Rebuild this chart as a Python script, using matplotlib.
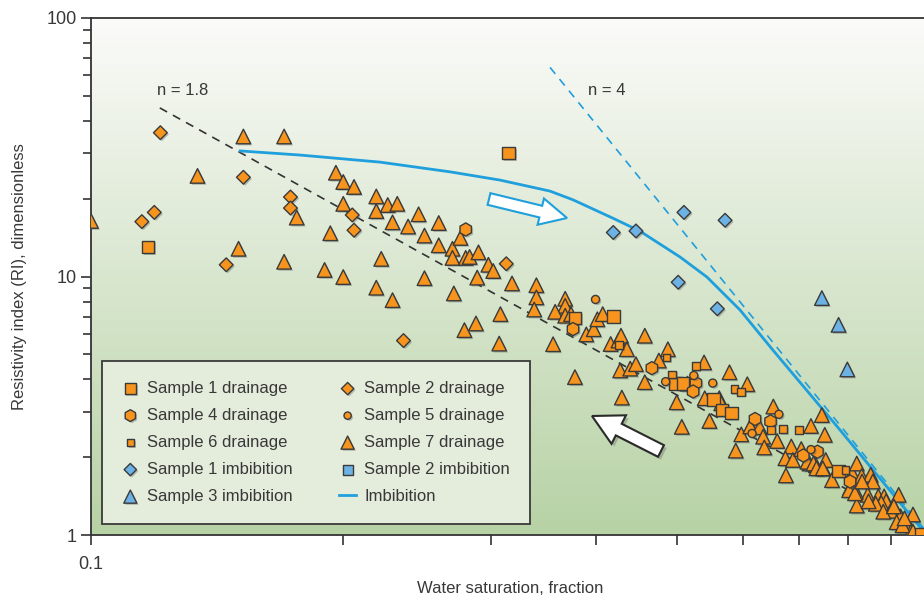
import numpy as np
import matplotlib
matplotlib.use("Agg")
import matplotlib.pyplot as plt
import matplotlib.patheffects as pe
from matplotlib.patches import FancyArrow
from matplotlib.ticker import FixedLocator, FixedFormatter, NullLocator
from matplotlib.transforms import Affine2D

FONT = ["Liberation Sans", "DejaVu Sans"]
plt.rcParams["font.family"] = FONT
TEXT = "#383838"

# ---- measured resistivity index vs water saturation ----
s1_drain_sw = [0.117, 0.315, 0.378, 0.42, 0.498, 0.509, 0.553, 0.566, 0.581, 0.78, 0.98]
s1_drain_ri = [13.0, 30.0, 6.9, 7.0, 3.86, 3.86, 3.35, 3.05, 2.97, 1.77, 1.01]

s2_drain_sw = [0.121, 0.115, 0.119, 0.145, 0.152, 0.173, 0.173, 0.205, 0.206, 0.313, 0.236]
s2_drain_ri = [36.0, 16.3, 17.7, 11.1, 24.2, 20.3, 18.4, 17.3, 15.1, 11.2, 5.65]

s4_drain_sw = [0.28, 0.376, 0.467, 0.527, 0.523, 0.62, 0.647, 0.708, 0.736, 0.805]
s4_drain_ri = [15.2, 6.26, 4.42, 3.87, 3.59, 2.81, 2.75, 2.03, 2.10, 1.61]

s5_drain_sw = [0.40, 0.485, 0.524, 0.552, 0.662, 0.615, 0.723]
s5_drain_ri = [8.15, 3.92, 4.14, 3.87, 2.93, 2.47, 2.14]

s6_drain_sw = [0.427, 0.486, 0.494, 0.527, 0.586, 0.597, 0.648, 0.67, 0.699, 0.795]
s6_drain_ri = [5.42, 4.86, 4.18, 4.5, 3.66, 3.58, 2.55, 2.57, 2.55, 1.78]

s7_drain_sw = [
    0.100, 0.134, 0.152, 0.170, 0.150, 0.170, 0.176, 0.190, 0.193, 0.196,
    0.200, 0.206, 0.200, 0.200, 0.219, 0.219, 0.219, 0.222, 0.226, 0.232,
    0.229, 0.239, 0.246, 0.260, 0.250, 0.260, 0.270, 0.270, 0.276, 0.280,
    0.283, 0.290, 0.298, 0.302, 0.289, 0.318, 0.340, 0.340, 0.338, 0.308,
    0.288, 0.279, 0.307, 0.271, 0.250, 0.229, 0.368, 0.368, 0.358, 0.368,
    0.374, 0.356, 0.390, 0.398, 0.402, 0.408, 0.417, 0.426, 0.429, 0.436,
    0.458, 0.428, 0.440, 0.447, 0.458, 0.476, 0.488, 0.378, 0.430, 0.515,
    0.539, 0.578, 0.607, 0.500, 0.540, 0.562, 0.565, 0.547, 0.507, 0.588,
    0.597, 0.612, 0.628, 0.634, 0.636, 0.652, 0.659, 0.685, 0.674, 0.688,
    0.704, 0.745, 0.723, 0.751, 0.675, 0.733, 0.748, 0.720, 0.716, 0.753,
    0.766, 0.810, 0.820, 0.831, 0.852, 0.857, 0.820, 0.805, 0.845, 0.870,
    0.884, 0.889, 0.920, 0.910, 0.877, 0.900, 0.925, 0.915, 0.935, 0.957,
    0.953, 0.818, 0.864, 0.803, 0.816, 0.728, 0.734, 0.747, 0.832, 0.930,
    0.882, 0.908, 0.847, 0.957, 0.935,
]
s7_drain_ri = [
    16.4, 24.5, 34.8, 34.8, 12.8, 11.4, 16.9, 10.6, 14.7, 25.2,
    23.2, 22.2, 19.1, 9.95, 20.4, 17.9, 9.05, 11.7, 18.9, 19.1,
    16.2, 15.6, 17.4, 16.1, 14.4, 13.2, 12.8, 11.8, 14.1, 11.8,
    11.9, 12.4, 11.1, 10.5, 9.9, 9.4, 9.25, 8.3, 7.45, 7.15,
    6.58, 6.2, 5.5, 8.6, 9.85, 8.1, 8.2, 7.7, 7.3, 7.05,
    7.15, 5.47, 5.97, 6.25, 6.83, 7.15, 5.48, 5.65, 5.9, 5.23,
    5.9, 4.33, 4.4, 4.58, 3.9, 4.73, 5.23, 4.08, 3.4, 3.85,
    4.65, 4.26, 3.83, 3.26, 3.38, 3.38, 3.23, 2.76, 2.62, 2.12,
    2.45, 2.63, 2.61, 2.4, 2.18, 3.14, 2.31, 2.2, 1.98, 1.95,
    2.15, 2.91, 2.64, 2.44, 1.7, 1.86, 1.81, 1.89, 1.92, 1.95,
    1.63, 1.73, 1.89, 1.69, 1.71, 1.61, 1.3, 1.52, 1.43, 1.41,
    1.41, 1.35, 1.43, 1.27, 1.33, 1.24, 1.18, 1.12, 1.12, 1.2,
    1.04, 1.47, 1.32, 1.49, 1.45, 1.89, 1.81, 1.81, 1.61, 1.09,
    1.23, 1.29, 1.35, 1.03, 1.16,
]

s1_imb_sw = [0.42, 0.447, 0.51, 0.571, 0.502, 0.559]
s1_imb_ri = [14.8, 15.0, 17.7, 16.5, 9.5, 7.5]

s2_imb_sw = []
s2_imb_ri = []

s3_imb_sw = [0.745, 0.78, 0.799]
s3_imb_ri = [8.25, 6.5, 4.37]

# imbibition trend curve
imb_sw = [0.1507, 0.1776, 0.2212, 0.2682, 0.3077, 0.3529, 0.376, 0.4197, 0.4516,
          0.5045, 0.5433, 0.595, 0.6513, 0.783, 0.9756, 1.0]
imb_ri = [30.6, 29.5, 27.7, 25.4, 23.6, 21.4, 19.8, 16.8, 15.0,
          11.9, 9.95, 7.42, 5.19, 2.55, 1.074, 1.0]

# Archie saturation exponents
n_low, n_low_start = 1.8, 0.1208
n_high, n_high_start = 4.0, 0.353

ORANGE = "#f7941d"
BLUE_FILL = "#6cb2e4"
EDGE = "#3a3a3a"
LINE_BLUE = "#1f9fdc"

W, H = 924, 601
fig = plt.figure(figsize=(W / 100, H / 100), dpi=100)
ax = fig.add_axes([91 / W, (H - 535) / H, (929 - 91) / W, (535 - 18) / H])
ax.set_xscale("log")
ax.set_yscale("log")
ax.set_xlim(0.1, 1.0)
ax.set_ylim(1, 100)

# vertical background gradient
grad = np.linspace(0, 1, 256).reshape(-1, 1)
top = np.array([251, 251, 249]) / 255
bot = np.array([183, 210, 165]) / 255
img = top[None, None, :] * (1 - grad[:, :, None]) + bot[None, None, :] * grad[:, :, None]
ax.imshow(img, extent=[0, 1, 0, 1], transform=ax.transAxes, aspect="auto",
          origin="upper", zorder=0)

# Archie lines
sw1 = np.array([n_low_start, 1.0])
ax.plot(sw1, sw1 ** -n_low, color="#333333", lw=1.2, ls=(0, (5, 4)), zorder=2)
sw2 = np.array([n_high_start, 1.0])
ax.plot(sw2, sw2 ** -n_high, color=LINE_BLUE, lw=1.2, ls=(0, (5, 4)), zorder=2)

imb_line, = ax.plot(imb_sw, imb_ri, color=LINE_BLUE, lw=2.0, zorder=2,
                    label="Imbibition")

shadow = [pe.SimplePatchShadow(offset=(1.2, -1.2), shadow_rgbFace="#555555", alpha=0.35),
          pe.Normal()]

def pts(sw, ri, marker, size, face, label):
    return ax.scatter(sw, ri, marker=marker, s=size ** 2, facecolor=face,
                      edgecolor=EDGE, linewidths=1.0, zorder=3, label=label,
                      path_effects=shadow)

h_s7 = pts(s7_drain_sw, s7_drain_ri, "^", 10.5, ORANGE, "Sample 7 drainage")
h_s1 = pts(s1_drain_sw, s1_drain_ri, "s", 9.0, ORANGE, "Sample 1 drainage")
h_s2 = pts(s2_drain_sw, s2_drain_ri, "D", 7.0, ORANGE, "Sample 2 drainage")
h_s4 = pts(s4_drain_sw, s4_drain_ri, "h", 9.5, ORANGE, "Sample 4 drainage")
h_s5 = pts(s5_drain_sw, s5_drain_ri, "o", 5.8, ORANGE, "Sample 5 drainage")
h_s6 = pts(s6_drain_sw, s6_drain_ri, "s", 5.6, ORANGE, "Sample 6 drainage")
h_i1 = pts(s1_imb_sw, s1_imb_ri, "D", 7.0, BLUE_FILL, "Sample 1 imbibition")
h_i2 = pts(s2_imb_sw, s2_imb_ri, "s", 8.0, BLUE_FILL, "Sample 2 imbibition")
h_i3 = pts(s3_imb_sw, s3_imb_ri, "^", 10.5, BLUE_FILL, "Sample 3 imbibition")

# labels on the Archie lines
ax.text(0.12, 52.5, f"n = {n_low:g}", fontsize=12, color=TEXT, ha="left", va="center")
ax.text(0.392, 52.5, f"n = {n_high:g}", fontsize=12, color=TEXT, ha="left", va="center")

# direction arrows, drawn in pixel space
px = Affine2D().scale(1 / W, 1 / H) + fig.transFigure
a1 = FancyArrow(489, H - 199, 78, -19, width=12, head_width=27, head_length=27,
                length_includes_head=True, facecolor="white", edgecolor=LINE_BLUE,
                lw=1.5, transform=px, zorder=4)
a2 = FancyArrow(661, H - 451, -69, 35, width=13, head_width=32, head_length=30,
                length_includes_head=True, facecolor="white", edgecolor="#2a2a2a",
                lw=1.5, transform=px, zorder=4,
                path_effects=[pe.SimplePatchShadow(offset=(2, -2), alpha=0.3), pe.Normal()])
fig.add_artist(a1)
fig.add_artist(a2)

# axes styling
for side in ("left", "top", "bottom"):
    ax.spines[side].set_color("#333333")
    ax.spines[side].set_linewidth(1.3)
ax.spines["right"].set_visible(False)

x_ticks = [0.1, 0.2, 0.3, 0.4, 0.5, 0.6, 0.7, 0.8, 0.9]
x_tick_labels = ["0.1", "", "", "", "", "", "", "", ""]
ax.xaxis.set_major_locator(FixedLocator(x_ticks))
ax.xaxis.set_major_formatter(FixedFormatter(x_tick_labels))
ax.xaxis.set_minor_locator(NullLocator())

y_ticks = [1, 10, 100]
y_tick_labels = ["1", "10", "100"]
ax.yaxis.set_major_locator(FixedLocator(y_ticks))
ax.yaxis.set_major_formatter(FixedFormatter(y_tick_labels))
ax.yaxis.set_minor_locator(FixedLocator([v * d for d in (1, 10) for v in range(2, 10)]))

ax.tick_params(axis="x", which="major", direction="out", length=7, width=1.2,
               color="#333333", labelsize=13, labelcolor=TEXT, pad=8)
ax.tick_params(axis="y", which="major", direction="out", length=7, width=1.2,
               color="#333333", labelsize=13, labelcolor=TEXT, pad=3)
ax.tick_params(axis="y", which="minor", direction="out", length=6, width=1.2,
               color="#333333")

ax.set_xlabel("Water saturation, fraction", fontsize=12, color=TEXT, labelpad=6)
ax.set_ylabel("Resistivity index (RI), dimensionless", fontsize=12, color=TEXT,
              labelpad=14)

handles = [h_s1, h_s4, h_s6, h_i1, h_i3, h_s2, h_s5, h_s7, h_i2, imb_line]
leg = ax.legend(handles=handles, labels=[h.get_label() for h in handles],
                ncol=2, loc="lower left", bbox_to_anchor=(11 / 838, 11 / 517),
                borderaxespad=0, frameon=True, fancybox=False, framealpha=1,
                facecolor="#e4ecdc", edgecolor="#3a3a3a", fontsize=12,
                markerscale=0.9, handlelength=1.0, handletextpad=0.5,
                labelspacing=0.72, columnspacing=2.8, borderpad=1.2)
leg.get_frame().set_linewidth(1.3)
for t in leg.get_texts():
    t.set_color(TEXT)
leg.set_zorder(5)

fig.savefig("out.png", dpi=100)
